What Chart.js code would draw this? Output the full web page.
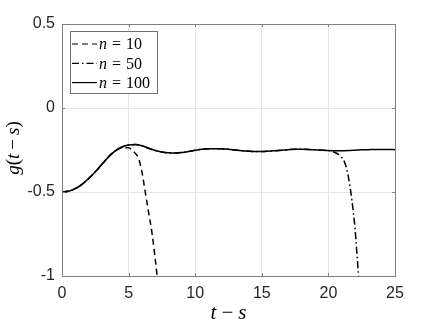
<!DOCTYPE html>
<html>
<head>
<meta charset="utf-8">
<script src="https://cdn.jsdelivr.net/npm/chart.js@4"></script>
<style>
  html, body { margin: 0; padding: 0; background: #fff; }
  #wrap { width: 436px; height: 327px; }
</style>
</head>
<body>
<div id="wrap"><canvas id="c" width="436" height="327"></canvas></div>
<script>
// g(t - s) for n = 100 (solid)
var tN100 = [0, 0.5, 1, 1.5, 2, 2.5, 3, 3.5, 4, 4.5, 5, 5.5, 6, 6.5, 7, 7.5, 8, 8.5, 9, 9.5,
  10, 10.5, 11, 11.5, 12, 12.5, 13, 13.5, 14, 14.5, 15, 15.5, 16, 16.5, 17, 17.5, 18, 18.5, 19, 19.5,
  20, 20.5, 21, 21.5, 22, 22.5, 23, 23.5, 24, 24.5, 25];
var gN100 = [-0.5, -0.495, -0.48, -0.455, -0.42, -0.38, -0.335, -0.29, -0.255, -0.232, -0.22, -0.218, -0.225, -0.24, -0.253, -0.262, -0.267, -0.268, -0.265, -0.259,
  -0.252, -0.246, -0.243, -0.242, -0.243, -0.246, -0.25, -0.254, -0.257, -0.259, -0.259, -0.257, -0.254, -0.251, -0.248, -0.246, -0.246, -0.247, -0.249, -0.251,
  -0.253, -0.254, -0.254, -0.253, -0.251, -0.249, -0.248, -0.247, -0.247, -0.247, -0.248];

// n = 10 (dashed)
var tN10 = [0, 0.5, 1, 1.5, 2, 2.5, 3, 3.5, 4, 4.5, 5, 5.25, 5.5, 5.75, 6, 6.25, 6.5, 6.75, 7, 7.25];
var gN10 = [-0.5, -0.495, -0.48, -0.455, -0.42, -0.38, -0.335, -0.29, -0.256, -0.236, -0.236, -0.25, -0.27, -0.3, -0.38, -0.5, -0.62, -0.74, -0.9, -1.08];

// n = 50 (dash-dot)
var tN50 = [0, 0.5, 1, 1.5, 2, 2.5, 3, 3.5, 4, 4.5, 5, 5.5, 6, 6.5, 7, 7.5, 8, 8.5, 9, 9.5,
  10, 10.5, 11, 11.5, 12, 12.5, 13, 13.5, 14, 14.5, 15, 15.5, 16, 16.5, 17, 17.5, 18, 18.5, 19, 19.5,
  20, 20.25, 20.5, 20.75, 21, 21.25, 21.5, 21.75, 22, 22.25, 22.4];
var gN50 = [-0.5, -0.495, -0.48, -0.455, -0.42, -0.38, -0.335, -0.29, -0.255, -0.232, -0.22, -0.218, -0.225, -0.24, -0.253, -0.262, -0.267, -0.268, -0.265, -0.259,
  -0.252, -0.246, -0.243, -0.242, -0.243, -0.246, -0.25, -0.254, -0.257, -0.259, -0.259, -0.257, -0.254, -0.251, -0.248, -0.246, -0.246, -0.247, -0.249, -0.251,
  -0.254, -0.258, -0.265, -0.276, -0.295, -0.33, -0.41, -0.54, -0.72, -0.98, -1.1];

var legendNums = ['10', '50', '100'];
var xTicks = [0, 5, 10, 15, 20, 25];
var yTicks = [-1, -0.5, 0, 0.5];

var AXIS = '#808080';
var TXT = '#262626';
var SERIF = '"Liberation Serif", "DejaVu Serif", serif';
var SANS = '"Liberation Sans", Arial, sans-serif';

function pts(ts, gs) {
  return ts.map((t, i) => ({ x: t, y: gs[i] }));
}

// draw a row of [text, italic] pieces (numbers are gaps), returns total width
function pieces(ctx, parts, size, measureOnly) {
  var w = 0;
  parts.forEach(p => {
    if (typeof p === 'number') { w += p; return; }
    ctx.font = (p[1] ? 'italic ' : '') + size + 'px ' + SERIF;
    if (!measureOnly) ctx.fillText(p[0], w, 0);
    w += ctx.measureText(p[0]).width;
  });
  return w;
}

var frame = {
  id: 'frame',
  afterDraw(chart) {
    var ctx = chart.ctx;
    var a = chart.chartArea;
    var xs = chart.scales.x, ys = chart.scales.y;
    ctx.save();
    // box
    ctx.strokeStyle = AXIS;
    ctx.lineWidth = 1;
    ctx.strokeRect(Math.round(a.left) + 0.5, Math.round(a.top) + 0.5,
      Math.round(a.right - a.left), Math.round(a.bottom - a.top));
    // inward ticks
    ctx.beginPath();
    xTicks.forEach(v => {
      var x = Math.round(xs.getPixelForValue(v)) + 0.5;
      ctx.moveTo(x, a.bottom); ctx.lineTo(x, a.bottom - 3);
      ctx.moveTo(x, a.top); ctx.lineTo(x, a.top + 3);
    });
    yTicks.forEach(v => {
      var y = Math.round(ys.getPixelForValue(v)) + 0.5;
      ctx.moveTo(a.left, y); ctx.lineTo(a.left + 3, y);
      ctx.moveTo(a.right, y); ctx.lineTo(a.right - 3, y);
    });
    ctx.stroke();

    // legend
    var lx = 70, ly = 31, lw = 87, lh = 62;
    ctx.fillStyle = '#fff';
    ctx.fillRect(lx, ly, lw, lh);
    ctx.strokeStyle = '#6e6e6e';
    ctx.strokeRect(lx + 0.5, ly + 0.5, lw, lh);
    chart.data.datasets.forEach((ds, i) => {
      var y = 44 + i * 19.3;
      ctx.strokeStyle = '#000';
      ctx.lineWidth = 1.2;
      ctx.setLineDash(ds.borderDash || []);
      ctx.beginPath();
      ctx.moveTo(72, y); ctx.lineTo(97, y);
      ctx.stroke();
      ctx.setLineDash([]);
      ctx.fillStyle = '#000';
      ctx.textBaseline = 'middle';
      ctx.textAlign = 'left';
      ctx.save();
      ctx.translate(99, y + 1);
      pieces(ctx, [['n', true], 5, ['=', false], 5, [legendNums[i], false]], 16);
      ctx.restore();
    });

    // axis titles
    ctx.fillStyle = '#000';
    ctx.textBaseline = 'alphabetic';
    ctx.textAlign = 'left';
    var xt = [['t', true], 5, ['\u2212', false], 5, ['s', true]];
    var w = pieces(ctx, xt, 21, true);
    ctx.save();
    ctx.translate((a.left + a.right) / 2 - w / 2, 319);
    pieces(ctx, xt, 21);
    ctx.restore();

    var yt = [['g', true], ['(', false], ['t', true], 4, ['\u2212', false], 4, ['s', true], [')', false]];
    w = pieces(ctx, yt, 19, true);
    ctx.save();
    ctx.translate(19, (a.top + a.bottom) / 2 + w / 2 - 2);
    ctx.rotate(-Math.PI / 2);
    pieces(ctx, yt, 19);
    ctx.restore();
    ctx.restore();
  }
};

var lineBase = {
  borderColor: '#000',
  borderWidth: 1.5,
  pointRadius: 0,
  fill: false,
  cubicInterpolationMode: 'monotone'
};

new Chart(document.getElementById('c'), {
  type: 'line',
  data: {
    datasets: [
      Object.assign({ label: 'n = 10', data: pts(tN10, gN10), borderDash: [6, 4] }, lineBase),
      Object.assign({ label: 'n = 50', data: pts(tN50, gN50), borderDash: [7, 3, 1.5, 3] }, lineBase),
      Object.assign({ label: 'n = 100', data: pts(tN100, gN100), borderDash: [] }, lineBase)
    ]
  },
  options: {
    responsive: false,
    animation: false,
    layout: { padding: { top: 24, right: 41, left: 0, bottom: 0 } },
    plugins: { legend: { display: false }, tooltip: { enabled: false } },
    scales: {
      x: {
        type: 'linear',
        min: 0, max: 25,
        afterFit(s) { s.height = 51; },
        afterBuildTicks(s) { s.ticks = xTicks.map(v => ({ value: v })); },
        border: { display: false },
        grid: { color: '#e6e6e6', drawTicks: false },
        ticks: { color: TXT, padding: 8, maxRotation: 0, font: { family: SANS, size: 16 }, callback: v => String(v) }
      },
      y: {
        type: 'linear',
        min: -1, max: 0.5,
        afterFit(s) { s.width = 62; },
        afterBuildTicks(s) { s.ticks = yTicks.map(v => ({ value: v })); },
        border: { display: false },
        grid: { color: '#e6e6e6', drawTicks: false },
        ticks: { color: TXT, padding: 7, font: { family: SANS, size: 16 }, callback: v => String(v) }
      }
    }
  },
  plugins: [frame]
});
</script>
</body>
</html>
